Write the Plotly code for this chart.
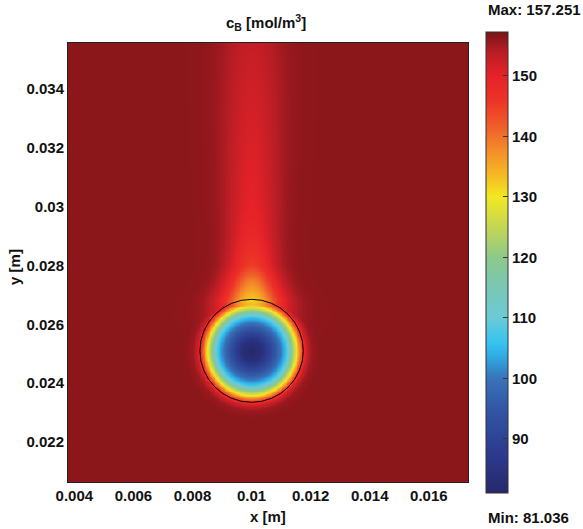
import numpy as np
import plotly.graph_objects as go

# ---- values ----
c_min, c_max = 81.036, 157.251
c_background = 156.3

# bubble (circle) geometry [m]
circle_x, circle_y, circle_r = 0.0100, 0.0251, 0.00175

# radial concentration profile through the bubble (r / R -> c)
radial_r = [0.0, 0.20, 0.39, 0.55, 0.65, 0.70, 0.76, 0.83, 0.87, 0.92, 0.97, 1.00, 1.06, 1.15, 1.30]
radial_c = [81.2, 84.0, 92.0, 100.0, 105.5, 110.5, 118.0, 126.0, 131.0, 138.0, 144.5, 147.5, 152.5, 155.5, 156.3]

# wake (plume) above the bubble: height -> centreline value, spread
plume_y = [0.0255, 0.0262, 0.0268, 0.0275, 0.0280, 0.0290, 0.0300, 0.0320, 0.0340, 0.0356]
plume_c = [156.3, 140.0, 132.0, 139.0, 145.0, 148.5, 150.0, 151.0, 152.0, 153.0]
plume_s = [0.00072, 0.00072, 0.00068, 0.00058, 0.00054, 0.00055, 0.00059, 0.00063, 0.00067, 0.00070]

# axis ranges & ticks
x_range = [0.003785, 0.017325]
y_range = [0.02064, 0.035564]
x_ticks = [0.004, 0.006, 0.008, 0.01, 0.012, 0.014, 0.016]
y_ticks = [0.022, 0.024, 0.026, 0.028, 0.03, 0.032, 0.034]
cbar_ticks = [90, 100, 110, 120, 130, 140, 150]

# colour table (value -> colour)
cmap_vals = [81.036, 88, 95, 100, 104, 106, 110, 115, 120, 125, 130, 134, 138, 142, 146, 150, 154, 157.251]
cmap_cols = ["#26276a", "#2c3c90", "#3157a5", "#3873ba", "#2fb0e6", "#36c4ef", "#6ccad6", "#79c7b5",
             "#8cc98a", "#c5d653", "#f2e822", "#f6b423", "#f4892a", "#ef5a29", "#ec3327", "#e52228",
             "#b81d25", "#7a1417"]

# ---- build field from the read profiles ----
nx, ny = 240, 265
xs = np.linspace(x_range[0], x_range[1], nx)
ys = np.linspace(y_range[0], y_range[1], ny)
X, Y = np.meshgrid(xs, ys)
dx = X - circle_x
dy = Y - circle_y
r = np.sqrt(dx ** 2 + dy ** 2) / circle_r
c_rad = np.interp(r, radial_r, radial_c, right=c_background)
pc = np.interp(Y, plume_y, plume_c, left=c_background, right=plume_c[-1])
ps = np.interp(Y, plume_y, plume_s)
c_pl = c_background - (c_background - pc) * np.exp(-dx ** 2 / (2 * ps ** 2))
Z = np.minimum(c_rad, c_pl)

colorscale = [[(v - c_min) / (c_max - c_min), c] for v, c in zip(cmap_vals, cmap_cols)]
colorscale[0][0] = 0.0
colorscale[-1][0] = 1.0

font = dict(family="Liberation Sans, Arial, sans-serif", size=15, color="#111111", weight="bold")

fig = go.Figure()
fig.add_trace(go.Heatmap(
    x=xs, y=ys, z=Z, zmin=c_min, zmax=c_max, zsmooth="best",
    colorscale=colorscale,
    colorbar=dict(
        x=1.045, xanchor="left", y=1.025, yanchor="top",
        len=461, lenmode="pixels", thickness=22, xpad=0, ypad=0,
        outlinecolor="#333333", outlinewidth=1,
        tickvals=cbar_ticks, ticks="inside", ticklen=5, tickcolor="#333333",
        tickfont=font,
    ),
    hoverinfo="skip",
))

fig.add_shape(type="circle", xref="x", yref="y",
              x0=circle_x - circle_r, x1=circle_x + circle_r,
              y0=circle_y - circle_r, y1=circle_y + circle_r,
              line=dict(color="black", width=1))

fig.update_xaxes(range=x_range, tickvals=x_ticks, ticktext=[str(t) for t in x_ticks],
                 ticks="", showgrid=False, zeroline=False, tickfont=font,
                 showline=True, linecolor="#222222", linewidth=1, mirror=True)
fig.update_yaxes(range=y_range, tickvals=y_ticks, ticktext=[str(t) for t in y_ticks],
                 ticks="", showgrid=False, zeroline=False, tickfont=font,
                 showline=True, linecolor="#222222", linewidth=1, mirror=True)

fig.update_layout(
    width=583, height=529,
    margin=dict(l=68, r=115, t=43, b=47),
    paper_bgcolor="white", plot_bgcolor="white",
    font=font,
    annotations=[
        dict(text="c<sub>B</sub> [mol/m<sup>3</sup>]", xref="paper", yref="paper",
             x=0.495, y=1.0, yshift=8, xanchor="center", yanchor="bottom", showarrow=False, font=font),
        dict(text="x [m]", xref="paper", yref="paper", x=0.5, y=0, yshift=-24,
             xanchor="center", yanchor="top", showarrow=False, font=font),
        dict(text="y [m]", xref="paper", yref="paper", x=0, xshift=-53, y=0.49,
             xanchor="center", yanchor="middle", textangle=-90, showarrow=False, font=font),
        dict(text="Max: 157.251", xref="paper", yref="paper", x=1.045, xshift=0, y=1.0, yshift=23,
             xanchor="left", yanchor="bottom", showarrow=False, font=font),
        dict(text="Min: 81.036", xref="paper", yref="paper", x=1.045, y=0, yshift=-25,
             xanchor="left", yanchor="top", showarrow=False, font=font),
    ],
)

fig.write_html("out.html")
